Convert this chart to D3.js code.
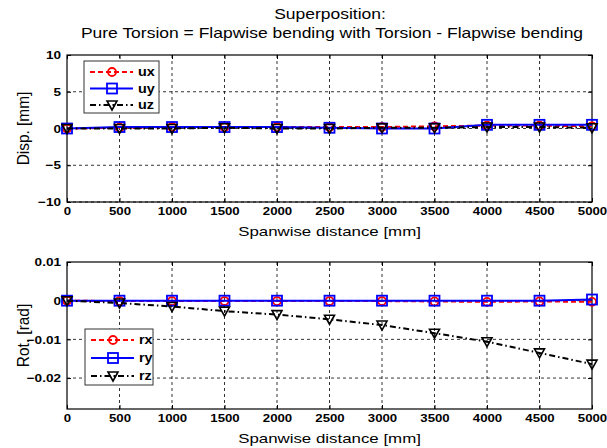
<!DOCTYPE html>
<html>
<head>
<meta charset="utf-8">
<script src="https://cdn.jsdelivr.net/npm/d3@7/dist/d3.min.js"></script>
<style>
  body { margin: 0; background: #fff; }
  svg { font-family: "Liberation Sans", Arial, sans-serif; }
  .tick text { font-weight: bold; font-size: 11.5px; fill: #000; }
</style>
</head>
<body>
<div id="chart"></div>
<script>
const width = 607, height = 448;

// spanwise stations
const xVals = [0, 500, 1000, 1500, 2000, 2500, 3000, 3500, 4000, 4500, 5000];
const xTicks = [0, 500, 1000, 1500, 2000, 2500, 3000, 3500, 4000, 4500, 5000];

// displacements [mm]
const ux = [0, 0.1, 0.2, 0.2, 0.2, 0.2, 0.2, 0.3, 0.4, 0.4, 0.3];
const uy = [0, 0.2, 0.2, 0.2, 0.2, 0.1, 0.0, 0.0, 0.5, 0.5, 0.5];
const uz = [0, 0.0, 0.0, 0.1, 0.0, 0.0, 0.1, 0.1, 0.2, 0.2, 0.1];
const dispTicks = [-10, -5, 0, 5, 10];

// rotations [rad]
const rx = [0, -0.0001, -0.0001, -0.0001, -0.0001, -0.0001, -0.0001, -0.0002, -0.0003, -0.0002, -0.0003];
const ry = [0, 0, 0, 0, 0, 0, 0, 0, 0, 0, 0.0003];
const rz = [0, -0.0006, -0.0015, -0.0027, -0.0036, -0.0048, -0.0063, -0.0084, -0.0106, -0.0135, -0.0164];
const rotTicks = [-0.02, -0.01, 0, 0.01];

const svg = d3.select("#chart").append("svg")
  .attr("width", width).attr("height", height);

// move x/y into a transform so the text can be widened in place
// (the reference text is rendered wider than plain Arial)
const stretch = (sx) => (sel) => {
  sel.each(function () {
    const t = d3.select(this);
    const tx = +t.attr("x") || 0, ty = +t.attr("y") || 0;
    t.attr("x", 0).attr("y", 0)
      .attr("transform", `translate(${tx},${ty}) scale(${sx},1)`);
  });
};

// title
svg.append("text").attr("x", 330).attr("y", 19).attr("text-anchor", "middle")
  .attr("font-size", 14).text("Superposition:").call(stretch(1.25));
svg.append("text").attr("x", 332).attr("y", 38).attr("text-anchor", "middle")
  .attr("font-size", 14).text("Pure Torsion = Flapwise bending with Torsion - Flapwise bending")
  .call(stretch(1.25));

const x0 = 67, x1 = 592;
const x = d3.scaleLinear().domain([0, 5000]).range([x0, x1]);

const styles = [
  { color: "red", dash: "5,3", marker: "circle" },
  { color: "#0000ff", dash: null, marker: "square" },
  { color: "black", dash: "6,3,1.5,3", marker: "triangle" }
];

const drawMarker = (g, type, color, cx, cy) => {
  if (type === "circle") {
    g.append("circle").attr("cx", cx).attr("cy", cy).attr("r", 4)
      .attr("fill", "none").attr("stroke", color).attr("stroke-width", 1.8);
  } else if (type === "square") {
    g.append("rect").attr("x", cx - 5).attr("y", cy - 5).attr("width", 10).attr("height", 10)
      .attr("fill", "none").attr("stroke", color).attr("stroke-width", 1.8);
  } else {
    g.append("path")
      .attr("d", `M${cx - 5},${cy - 4} L${cx + 5},${cy - 4} L${cx},${cy + 5} Z`)
      .attr("fill", "none").attr("stroke", color).attr("stroke-width", 1.6);
  }
};

const makePanel = (cfg) => {
  const y = d3.scaleLinear().domain(cfg.domain).range([cfg.bottom, cfg.top]);
  const g = svg.append("g");

  // grid
  g.selectAll(".vg").data(xTicks.slice(1, -1)).join("line")
    .attr("x1", (d) => x(d)).attr("x2", (d) => x(d))
    .attr("y1", cfg.top).attr("y2", cfg.bottom)
    .attr("stroke", "#000").attr("stroke-width", 0.8).attr("stroke-dasharray", "3,3");
  g.selectAll(".hg").data(cfg.ticks.filter((t) => y(t) > cfg.top + 1)).join("line")
    .attr("x1", x0).attr("x2", x1)
    .attr("y1", (d) => y(d)).attr("y2", (d) => y(d))
    .attr("stroke", "#000").attr("stroke-width", 0.8).attr("stroke-dasharray", "3,3");

  // axes
  g.append("g").attr("transform", `translate(0,${cfg.bottom})`)
    .call(d3.axisBottom(x).tickValues(xTicks).tickFormat(d3.format("d"))
      .tickSizeInner(-4).tickSizeOuter(0).tickPadding(5))
    .call((a) => a.select(".domain").remove())
    .call((a) => a.selectAll("text").call(stretch(1.15)));
  g.append("g").attr("transform", `translate(0,${cfg.top})`)
    .call(d3.axisTop(x).tickValues(xTicks).tickSizeInner(-4).tickSizeOuter(0).tickFormat(""))
    .call((a) => a.select(".domain").remove());
  g.append("g").attr("transform", `translate(${x0},0)`)
    .call(d3.axisLeft(y).tickValues(cfg.ticks).tickSizeInner(-4).tickSizeOuter(0).tickPadding(6)
      .tickFormat(cfg.fmt))
    .call((a) => a.select(".domain").remove())
    .call((a) => a.selectAll("text").call(stretch(1.18)));
  g.append("g").attr("transform", `translate(${x1},0)`)
    .call(d3.axisRight(y).tickValues(cfg.ticks).tickSizeInner(-4).tickSizeOuter(0).tickFormat(""))
    .call((a) => a.select(".domain").remove());
  g.selectAll(".tick line").attr("stroke", "#000");
  g.append("rect").attr("x", x0).attr("y", cfg.top)
    .attr("width", x1 - x0).attr("height", cfg.bottom - cfg.top)
    .attr("fill", "none").attr("stroke", "#000").attr("stroke-width", 1.2);

  // series
  cfg.series.forEach((s, i) => {
    const st = styles[i];
    const line = d3.line().x((d, j) => x(xVals[j])).y((d) => y(d));
    g.append("path").datum(s.values).attr("d", line)
      .attr("fill", "none").attr("stroke", st.color).attr("stroke-width", 2)
      .attr("stroke-dasharray", st.dash);
    s.values.forEach((v, j) => drawMarker(g, st.marker, st.color, x(xVals[j]), y(v)));
  });

  // legend
  const L = cfg.legend;
  g.append("rect").attr("x", L.x).attr("y", L.y).attr("width", L.w).attr("height", L.h)
    .attr("fill", "#fff").attr("stroke", "#333").attr("stroke-width", 1);
  cfg.series.forEach((s, i) => {
    const st = styles[i];
    const ly = L.y + L.pad + i * L.step;
    g.append("line").attr("x1", L.x + 6).attr("x2", L.x + 49).attr("y1", ly).attr("y2", ly)
      .attr("stroke", st.color).attr("stroke-width", 2).attr("stroke-dasharray", st.dash);
    drawMarker(g, st.marker, st.color, L.x + 28, ly);
    g.append("text").attr("x", L.x + 54).attr("y", ly + 4)
      .attr("font-size", 12).attr("font-weight", "bold").text(s.name).call(stretch(1.2));
  });

  // labels
  svg.append("text").attr("x", (x0 + x1) / 2).attr("y", cfg.bottom + 34)
    .attr("text-anchor", "middle").attr("font-size", 13.5).text("Spanwise distance [mm]")
    .call(stretch(1.25));
  svg.append("text")
    .attr("transform", `translate(29,${(cfg.top + cfg.bottom) / 2}) rotate(-90) scale(1.1,1.2)`)
    .attr("text-anchor", "middle").attr("font-size", 14).text(cfg.ylabel);
};

makePanel({
  top: 55, bottom: 202, domain: [-10, 10], ticks: dispTicks,
  fmt: d3.format("d"), ylabel: "Disp. [mm]",
  series: [{ name: "ux", values: ux }, { name: "uy", values: uy }, { name: "uz", values: uz }],
  legend: { x: 84, y: 61, w: 75, h: 52, pad: 11, step: 16.5 }
});

makePanel({
  top: 262, bottom: 409, domain: [-0.028, 0.01], ticks: rotTicks,
  fmt: (d) => (d === 0 ? "0" : d3.format(".2f")(d).replace(/0$/, "")),
  ylabel: "Rot. [rad]",
  series: [{ name: "rx", values: rx }, { name: "ry", values: ry }, { name: "rz", values: rz }],
  legend: { x: 85, y: 329, w: 68, h: 56, pad: 11, step: 18 }
});
</script>
</body>
</html>
